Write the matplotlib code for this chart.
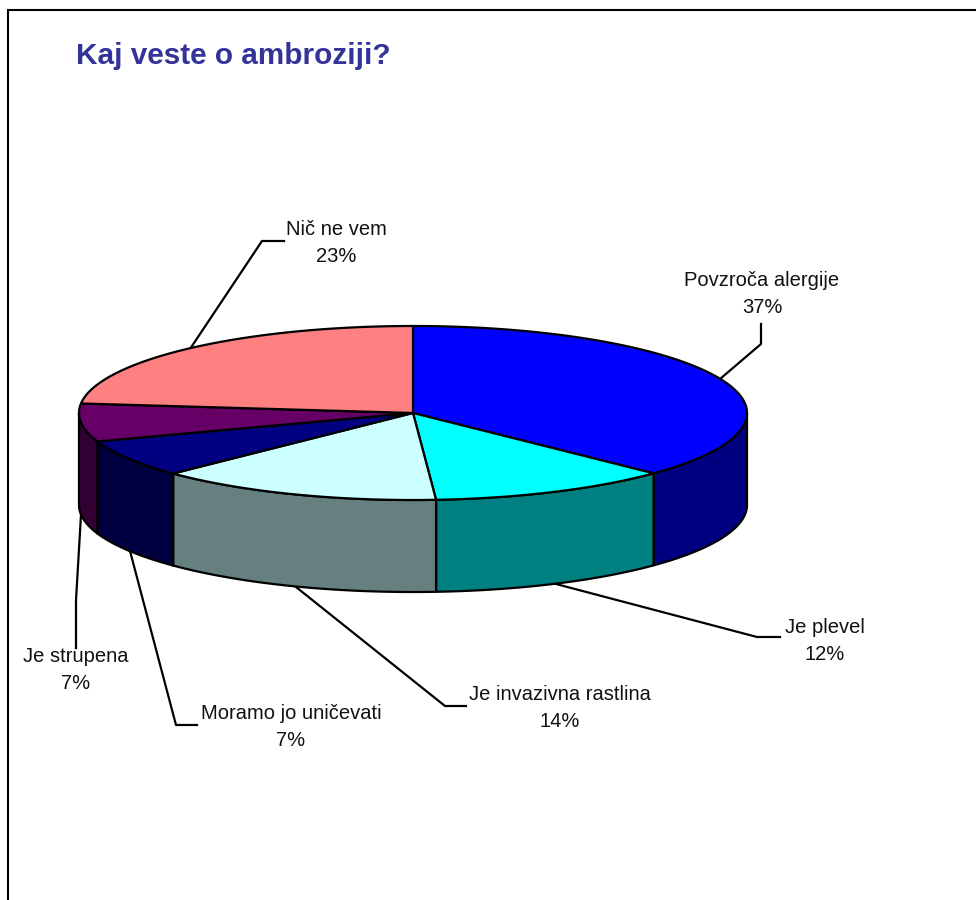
import matplotlib
matplotlib.use("Agg")
import matplotlib.pyplot as plt
import numpy as np

plt.rcParams["font.family"] = ["Liberation Sans", "DejaVu Sans"]

# data
categorias = ["Povzroča alergije", "Je plevel", "Je invazivna rastlina",
              "Moramo jo uničevati", "Je strupena", "Nič ne vem"]
valores = [37.2, 11.7, 13.85, 6.95, 7.05, 23.25]
porcentajes = ["37%", "12%", "14%", "7%", "7%", "23%"]
colores = ["#0000FF", "#00FFFF", "#CCFFFF", "#000080", "#660066", "#FF8080"]
colores_lado = ["#000080", "#008080", "#668080", "#000040", "#330033", "#804040"]
titulo = "Kaj veste o ambroziji?"

# posicion de las etiquetas, en pixeles
pos_etiquetas = [(762, 294), (825, 641), (560, 708), (291, 727), (76, 670), (336, 243)]
# lineas guia, en pixeles
guias = [[(720, 379), (761, 344), (761, 324)],
         [(556, 584), (757, 637), (780, 637)],
         [(296, 587), (445, 706), (466, 706)],
         [(130, 551), (176, 725), (197, 725)],
         [(81, 515), (76, 600), (76, 648)],
         [(190, 349), (262, 241), (284, 241)]]

cx, cy, a, b, alto = 413, 413, 334, 87, 92
lw = 1.6

def elipse(t1, t2, dy=0):
    t = np.radians(np.linspace(t1, t2, 200))
    return cx + a * np.sin(t), cy + dy - b * np.cos(t)

fig = plt.figure(figsize=(9.76, 9.0), dpi=100)
ax = fig.add_axes([0, 0, 1, 1])
ax.set_xlim(0, 976)
ax.set_ylim(900, 0)
ax.axis("off")

#marco
ax.plot([8, 8, 976], [900, 10, 10], color="black", linewidth=1.5, solid_joinstyle="miter")

ax.text(76, 56, titulo, color="#333399", fontsize=21.4, fontweight="bold", va="center", ha="left")

angulos = np.concatenate([[0], np.cumsum(valores)]) * 360 / sum(valores)

#lados (solo la parte de adelante, de 90 a 270 grados)
for i in range(len(valores)):
    t1 = max(angulos[i], 90)
    t2 = min(angulos[i + 1], 270)
    if t2 <= t1:
        continue
    x_arr, y_arr = elipse(t1, t2)
    x_aba, y_aba = elipse(t2, t1, alto)
    ax.fill(np.r_[x_arr, x_aba], np.r_[y_arr, y_aba], facecolor=colores_lado[i],
            edgecolor="black", linewidth=lw, joinstyle="round", zorder=2)

#tapa de arriba
for i in range(len(valores)):
    x_arr, y_arr = elipse(angulos[i], angulos[i + 1])
    ax.fill(np.r_[cx, x_arr], np.r_[cy, y_arr], facecolor=colores[i],
            edgecolor="black", linewidth=lw, joinstyle="round", zorder=3)

#guias y etiquetas
for guia in guias:
    xs, ys = zip(*guia)
    ax.plot(xs, ys, color="black", linewidth=lw, zorder=1)

for nombre, pct, pos in zip(categorias, porcentajes, pos_etiquetas):
    ax.text(pos[0], pos[1], f"{nombre}\n{pct}", fontsize=14.5, color="#111111", ha="center", va="center",
            linespacing=1.57, zorder=4)

fig.savefig("out.png", dpi=100)
